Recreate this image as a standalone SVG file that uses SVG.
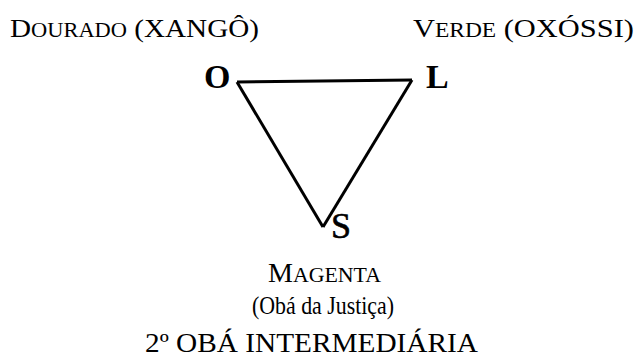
<svg xmlns="http://www.w3.org/2000/svg" width="639" height="359" viewBox="0 0 639 359">
<style>
text{font-family:"Liberation Serif","Times New Roman",serif;fill:#000}
.lbl{font-size:26px}
.sc{font-size:20px}
.v{font-size:34px;font-weight:bold}
.s{font-size:36px;stroke:#000;stroke-width:0.6}
.edge{stroke:#000;stroke-width:3;fill:none;stroke-linejoin:miter}
</style>
<rect width="639" height="359" fill="#fff"/>
<g id="connectors">
<path class="edge" d="M237 82 L412 80"/>
<path class="edge" d="M412 80 L323 227"/>
<path class="edge" d="M323 227 L237 82"/>
</g>
<g id="node-O"><text class="v" x="204" y="88">O</text></g>
<g id="node-L"><text class="v" x="426" y="88">L</text></g>
<g id="node-S"><text class="s" x="331" y="238">S</text></g>
<g id="label-dourado"><text class="lbl" x="10" y="37" textLength="249" lengthAdjust="spacingAndGlyphs">D<tspan class="sc">OURADO</tspan> (XANGÔ)</text></g>
<g id="label-verde"><text class="lbl" x="413" y="37" textLength="221" lengthAdjust="spacingAndGlyphs">V<tspan class="sc">ERDE</tspan> (OXÓSSI)</text></g>
<g id="label-magenta"><text x="268" y="282" textLength="113" lengthAdjust="spacingAndGlyphs" style="font-size:27px">M<tspan style="font-size:21px">AGENTA</tspan></text>
<text x="252" y="314" textLength="142" lengthAdjust="spacingAndGlyphs" style="font-size:25px">(Obá da Justiça)</text></g>
<g id="title"><text x="145" y="352" textLength="333" lengthAdjust="spacingAndGlyphs" style="font-size:27px">2º OBÁ INTERMEDIÁRIA</text></g>
</svg>
